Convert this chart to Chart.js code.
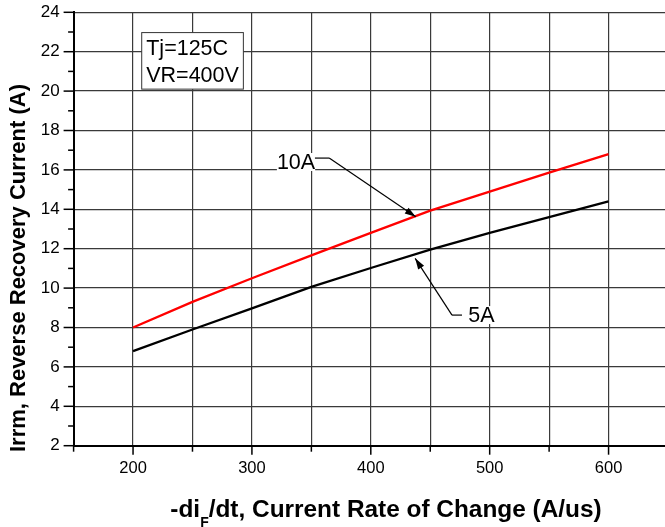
<!DOCTYPE html>
<html lang="en">
<head>
<meta charset="UTF-8">
<title>Irrm vs dI/dt</title>
<script src="https://cdn.jsdelivr.net/npm/chart.js@4.4.0/dist/chart.umd.min.js"></script>
<style>
  html, body { margin: 0; padding: 0; background: #fff; overflow: hidden; }
  #chart { display: block; }
</style>
</head>
<body>
<canvas id="chart" width="668" height="527"></canvas>
<script>
// -diF/dt (A/us)
const didt = [200, 250, 300, 350, 400, 450, 500, 550, 600];
// Irrm (A)
const irrm10A = [8.0, 9.3, 10.5, 11.66, 12.8, 13.93, 14.9, 15.86, 16.8];
const irrm5A = [6.8, 7.9, 8.97, 10.06, 11.02, 11.95, 12.8, 13.6, 14.4];
const xTickLabels = [200, 300, 400, 500, 600];
const yTickLabels = [2, 4, 6, 8, 10, 12, 14, 16, 18, 20, 22, 24];

const FONT = "'Liberation Sans', Arial, sans-serif";
Chart.defaults.font.family = FONT;
Chart.defaults.color = '#000';

function pts(ys) {
    return didt.map((x, i) => ({ x: x, y: ys[i] }));
}

function arrow(ctx, x1, y1, x2, y2) {
    ctx.beginPath();
    ctx.moveTo(x1, y1);
    ctx.lineTo(x2, y2);
    ctx.stroke();
    const a = Math.atan2(y2 - y1, x2 - x1);
    const L = 11, W = 3.5;
    ctx.beginPath();
    ctx.moveTo(x2, y2);
    ctx.lineTo(x2 - L * Math.cos(a) + W * Math.sin(a), y2 - L * Math.sin(a) - W * Math.cos(a));
    ctx.lineTo(x2 - L * Math.cos(a) - W * Math.sin(a), y2 - L * Math.sin(a) + W * Math.cos(a));
    ctx.closePath();
    ctx.fill();
}

const extras = {
    id: 'extras',
    afterDatasetsDraw(chart) {
        const ctx = chart.ctx;
        const xs = chart.scales.x, ys = chart.scales.y;
        const a = chart.chartArea;
        const X = v => xs.getPixelForValue(v);
        const Y = v => ys.getPixelForValue(v);
        ctx.save();

        // tick marks
        ctx.strokeStyle = '#000';
        ctx.lineWidth = 1.5;
        for (let v = 150; v <= 650; v += 50) {
            const len = xTickLabels.includes(v) ? 9 : 6;
            ctx.beginPath();
            ctx.moveTo(X(v), a.bottom);
            ctx.lineTo(X(v), a.bottom + len);
            ctx.stroke();
        }
        for (let v = 2; v <= 24; v += 1) {
            const len = v % 2 === 0 ? 10 : 5.5;
            ctx.beginPath();
            ctx.moveTo(a.left - len, Y(v));
            ctx.lineTo(a.left, Y(v));
            ctx.stroke();
        }

        // condition box
        const bx1 = X(207.3), bx2 = X(292.8), by1 = Y(22.97), by2 = Y(20.1);
        ctx.fillStyle = '#fff';
        ctx.fillRect(bx1, by1, bx2 - bx1, by2 - by1);
        ctx.strokeStyle = '#333';
        ctx.lineWidth = 1;
        ctx.strokeRect(bx1, by1, bx2 - bx1, by2 - by1);
        ctx.fillStyle = '#000';
        ctx.font = '21.5px ' + FONT;
        ctx.textAlign = 'left';
        ctx.textBaseline = 'middle';
        ctx.fillText('Tj=125C', bx1 + 4.5, by1 + 16);
        ctx.fillText('VR=400V', bx1 + 4.5, by1 + 43.5);

        // series labels
        ctx.font = '21.5px ' + FONT;
        const lab = (t, vx, vy) => {
            const w = ctx.measureText(t).width;
            ctx.fillStyle = '#fff';
            ctx.fillRect(X(vx), Y(vy) - 10, w, 18);
            ctx.fillStyle = '#000';
            ctx.fillText(t, X(vx), Y(vy));
        };
        lab('10A', 321, 16.35);
        lab('5A', 482, 8.58);

        ctx.strokeStyle = '#000';
        ctx.fillStyle = '#000';
        ctx.lineWidth = 1.2;
        ctx.beginPath();
        ctx.moveTo(X(353), Y(16.6));
        ctx.lineTo(X(365), Y(16.6));
        ctx.stroke();
        arrow(ctx, X(365), Y(16.6), X(437.8), Y(13.62));
        ctx.beginPath();
        ctx.moveTo(X(468.3), Y(8.63));
        ctx.lineTo(X(476.7), Y(8.63));
        ctx.stroke();
        arrow(ctx, X(468.3), Y(8.63), X(437.3), Y(11.51));

        // axis titles
        ctx.fillStyle = '#000';
        ctx.textBaseline = 'alphabetic';
        const p1 = '-di', p2 = 'F', p3 = '/dt, Current Rate of Change (A/us)';
        ctx.font = 'bold 24.4px ' + FONT;
        const w1 = ctx.measureText(p1).width, w3 = ctx.measureText(p3).width;
        ctx.font = 'bold 14px ' + FONT;
        const w2 = ctx.measureText(p2).width;
        let tx = 386 - (w1 + w2 + w3) / 2;
        ctx.font = 'bold 24.4px ' + FONT;
        ctx.fillText(p1, tx, 517);
        tx += w1;
        ctx.font = 'bold 14px ' + FONT;
        ctx.fillText(p2, tx, 527);
        tx += w2;
        ctx.font = 'bold 24.4px ' + FONT;
        ctx.fillText(p3, tx, 517);

        ctx.translate(18.5, 268);
        ctx.rotate(-Math.PI / 2);
        ctx.font = 'bold 22px ' + FONT;
        ctx.textAlign = 'center';
        ctx.textBaseline = 'middle';
        ctx.fillText('Irrm, Reverse Recovery Current (A)', 0, 0);
        ctx.restore();
    }
};

new Chart(document.getElementById('chart'), {
    type: 'line',
    data: {
        datasets: [
            { label: '10A', data: pts(irrm10A), borderColor: '#ff0000', borderWidth: 2.3, pointRadius: 0, tension: 0, fill: false },
            { label: '5A', data: pts(irrm5A), borderColor: '#000', borderWidth: 2.3, pointRadius: 0, tension: 0, fill: false }
        ]
    },
    options: {
        responsive: false,
        animation: false,
        events: [],
        layout: { padding: { top: 12.3, left: 0, right: 0, bottom: 0 } },
        plugins: { legend: { display: false }, tooltip: { enabled: false } },
        scales: {
            x: {
                type: 'linear',
                min: 150, max: 650,
                afterFit: s => { s.height = 81.3; s.paddingLeft = 0; s.paddingRight = 0; },
                ticks: {
                    stepSize: 50,
                    autoSkip: false,
                    maxRotation: 0,
                    padding: 13,
                    font: { size: 16.5 },
                    callback: v => xTickLabels.includes(v) ? String(v) : ''
                },
                grid: { color: '#3a3a3a', lineWidth: 1.2, drawTicks: false },
                border: { color: '#000', width: 2 }
            },
            y: {
                min: 2, max: 24,
                afterFit: s => { s.width = 73.6; s.paddingTop = 0; s.paddingBottom = 0; },
                ticks: {
                    stepSize: 2,
                    autoSkip: false,
                    padding: 14,
                    font: { size: 17 },
                    callback: v => yTickLabels.includes(v) ? String(v) : ''
                },
                grid: { color: '#3a3a3a', lineWidth: 1.2, drawTicks: false },
                border: { color: '#000', width: 2 }
            }
        }
    },
    plugins: [extras]
});
</script>
</body>
</html>
